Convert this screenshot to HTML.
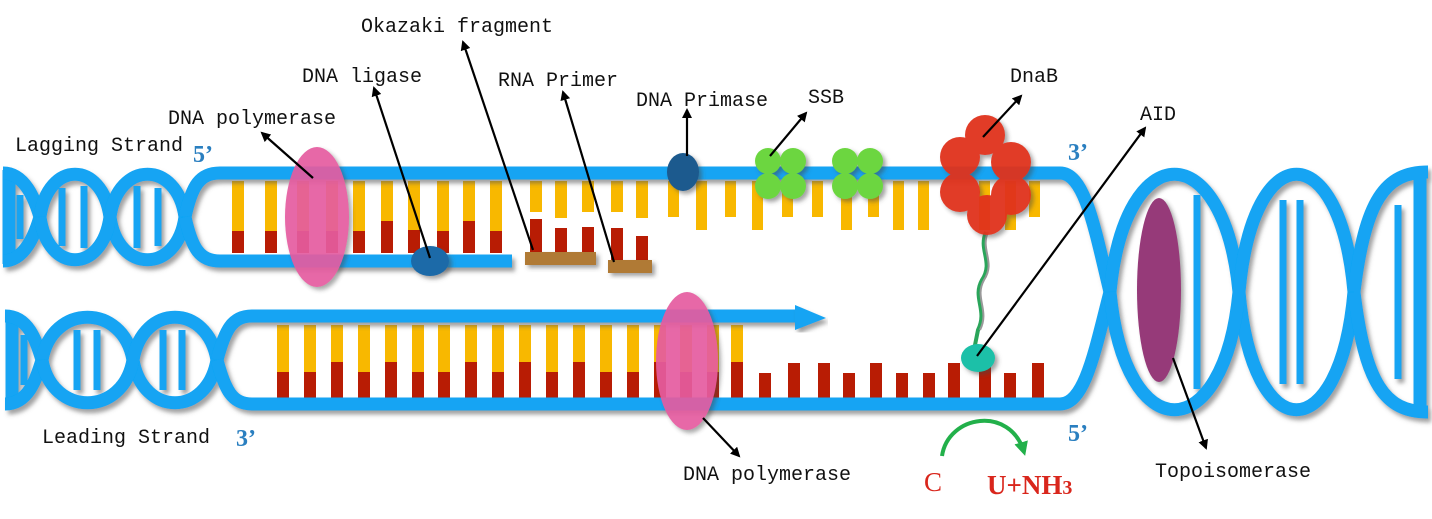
<!DOCTYPE html>
<html><head><meta charset="utf-8"><style>
html,body{margin:0;padding:0;background:#fff;}
svg{display:block;}
.lb{font-family:"Liberation Mono","DejaVu Sans Mono",monospace;font-size:20px;fill:#111;}
.pr{font-family:"Liberation Serif",serif;font-size:24px;fill:#2a7fc0;font-weight:bold;}
</style></head><body>
<svg width="1432" height="519" viewBox="0 0 1432 519" xmlns="http://www.w3.org/2000/svg">
<defs>
<filter id="sh" x="-5%" y="-5%" width="110%" height="115%"><feDropShadow dx="3" dy="4" stdDeviation="2" flood-color="#555" flood-opacity="0.55"/></filter>
<filter id="sh2" x="-20%" y="-20%" width="150%" height="150%"><feDropShadow dx="3" dy="3" stdDeviation="2" flood-color="#444" flood-opacity="0.5"/></filter>
<marker id="ah" markerWidth="10" markerHeight="10" refX="8" refY="5" orient="auto" markerUnits="userSpaceOnUse"><path d="M0,0 L10,5 L0,10 Z" fill="#000"/></marker>
<marker id="gh" markerWidth="14" markerHeight="14" refX="10" refY="7" orient="auto" markerUnits="userSpaceOnUse"><path d="M0,0 L14,7 L0,14 Z" fill="#22b04a"/></marker>
</defs>

<g>
<g fill="#f8b800">
<rect x="232" y="181" width="12" height="50"/><rect x="265" y="181" width="12" height="50"/><rect x="297" y="181" width="12" height="50"/><rect x="326" y="181" width="12" height="50"/><rect x="353" y="181" width="12" height="50"/><rect x="381" y="181" width="12" height="40"/><rect x="408" y="181" width="12" height="50"/><rect x="437" y="181" width="12" height="50"/><rect x="463" y="181" width="12" height="40"/><rect x="490" y="181" width="12" height="50"/>
<rect x="530" y="181" width="12" height="31"/><rect x="555" y="181" width="12" height="37"/><rect x="582" y="181" width="12" height="31"/><rect x="611" y="181" width="12" height="31"/><rect x="636" y="181" width="12" height="37"/>
<rect x="668" y="181" width="11" height="36"/><rect x="696" y="181" width="11" height="49"/><rect x="725" y="181" width="11" height="36"/><rect x="752" y="181" width="11" height="49"/><rect x="782" y="181" width="11" height="36"/><rect x="812" y="181" width="11" height="36"/><rect x="841" y="181" width="11" height="49"/><rect x="868" y="181" width="11" height="36"/><rect x="893" y="181" width="11" height="49"/><rect x="918" y="181" width="11" height="49"/><rect x="979" y="181" width="11" height="49"/><rect x="1005" y="181" width="11" height="49"/><rect x="1029" y="181" width="11" height="36"/>
</g>
<g fill="#b81c04">
<rect x="232" y="231" width="12" height="22"/><rect x="265" y="231" width="12" height="22"/><rect x="297" y="231" width="12" height="22"/><rect x="326" y="231" width="12" height="22"/><rect x="353" y="231" width="12" height="22"/><rect x="381" y="221" width="12" height="32"/><rect x="408" y="230" width="12" height="23"/><rect x="437" y="231" width="12" height="22"/><rect x="463" y="221" width="12" height="32"/><rect x="490" y="231" width="12" height="22"/>
<rect x="530" y="219" width="12" height="34"/><rect x="555" y="228" width="12" height="25"/><rect x="582" y="227" width="12" height="26"/><rect x="611" y="228" width="12" height="32"/><rect x="636" y="236" width="12" height="24"/>
</g>
<g filter="url(#sh2)" fill="#b07a35">
<rect x="525" y="252" width="71" height="13"/><rect x="608" y="260" width="44" height="13"/>
</g>
</g>

<g fill="#f8b800">
<rect x="277" y="325" width="12" height="47"/><rect x="304" y="325" width="12" height="47"/><rect x="331" y="325" width="12" height="37"/><rect x="358" y="325" width="12" height="47"/><rect x="385" y="325" width="12" height="37"/><rect x="412" y="325" width="12" height="47"/><rect x="438" y="325" width="12" height="47"/><rect x="465" y="325" width="12" height="37"/><rect x="492" y="325" width="12" height="47"/><rect x="519" y="325" width="12" height="37"/><rect x="546" y="325" width="12" height="47"/><rect x="573" y="325" width="12" height="37"/><rect x="600" y="325" width="12" height="47"/><rect x="627" y="325" width="12" height="47"/><rect x="654" y="325" width="12" height="37"/><rect x="680" y="325" width="12" height="47"/><rect x="707" y="325" width="12" height="47"/><rect x="731" y="325" width="12" height="37"/>
</g>
<g fill="#b81c04">
<rect x="277" y="372" width="12" height="26"/><rect x="304" y="372" width="12" height="26"/><rect x="331" y="362" width="12" height="36"/><rect x="358" y="372" width="12" height="26"/><rect x="385" y="362" width="12" height="36"/><rect x="412" y="372" width="12" height="26"/><rect x="438" y="372" width="12" height="26"/><rect x="465" y="362" width="12" height="36"/><rect x="492" y="372" width="12" height="26"/><rect x="519" y="362" width="12" height="36"/><rect x="546" y="372" width="12" height="26"/><rect x="573" y="362" width="12" height="36"/><rect x="600" y="372" width="12" height="26"/><rect x="627" y="372" width="12" height="26"/><rect x="654" y="362" width="12" height="36"/><rect x="680" y="372" width="12" height="26"/><rect x="707" y="372" width="12" height="26"/><rect x="731" y="362" width="12" height="36"/>
<rect x="759" y="373" width="12" height="25"/><rect x="788" y="363" width="12" height="35"/><rect x="818" y="363" width="12" height="35"/><rect x="843" y="373" width="12" height="25"/><rect x="870" y="363" width="12" height="35"/><rect x="896" y="373" width="12" height="25"/><rect x="923" y="373" width="12" height="25"/><rect x="948" y="363" width="12" height="35"/><rect x="979" y="363" width="12" height="35"/><rect x="1004" y="373" width="12" height="25"/><rect x="1032" y="363" width="12" height="35"/>
</g>

<g filter="url(#sh)" stroke="#12a4f3" stroke-width="13" fill="none" stroke-linecap="butt">
<g stroke-width="7">
<line x1="62" y1="188" x2="62" y2="246"/><line x1="84" y1="186" x2="84" y2="248"/>
<line x1="137" y1="186" x2="137" y2="248"/><line x1="158" y1="188" x2="158" y2="246"/>
<line x1="20" y1="195" x2="20" y2="239"/>
<line x1="77" y1="330" x2="77" y2="390"/><line x1="97" y1="330" x2="97" y2="390"/>
<line x1="163" y1="330" x2="163" y2="390"/><line x1="182" y1="330" x2="182" y2="390"/>
<line x1="24" y1="335" x2="24" y2="385"/>
<line x1="1197" y1="195" x2="1197" y2="389"/><line x1="1283" y1="200" x2="1283" y2="384"/><line x1="1300" y1="200" x2="1300" y2="384"/><line x1="1398" y1="205" x2="1398" y2="379"/>
</g>
<path d="M9,170 L9,264"/>
<path d="M3,173 C25,173 35,200 40,217 M3,261 C25,261 35,234 40,217"/>
<path d="M40,217 C48,160 102,160 110,217 C118,274 177,274 185,217"/>
<path d="M40,217 C48,274 102,274 110,217 C118,160 177,160 185,217"/>
<path d="M185,217 C192,185 200,173 220,173 L1060,173 C1085,173 1095,230 1110,292"/>
<path d="M185,217 C192,249 200,261 220,261 L512,261"/>
<path d="M12,313 L12,407"/>
<path d="M5,316 C28,316 36,340 42,360 M5,404 C28,404 36,380 42,360"/>
<path d="M42,360 C52,303 123,303 133,360 C143,417 207,417 217,360"/>
<path d="M42,360 C52,417 123,417 133,360 C143,303 207,303 217,360"/>
<path d="M217,360 C225,330 232,316 252,316 L800,316"/>
<path d="M217,360 C225,390 232,404 252,404 L1060,404 C1085,404 1095,350 1110,292"/>
<path d="M1110,292 C1125,135 1224,135 1239,292 C1253,449 1340,449 1354,292"/>
<path d="M1110,292 C1125,449 1224,449 1239,292 C1253,135 1340,135 1354,292"/>
<path d="M1354,292 C1365,200 1385,172 1428,172 M1354,292 C1365,384 1385,412 1428,412"/>
<path d="M1420,170 L1420,414"/>
</g>
<path d="M795,305 L826,318 L795,330 Z" fill="#12a4f3" filter="url(#sh)"/>

<ellipse cx="317" cy="217" rx="32" ry="70" fill="#e55ca0" opacity="0.92" filter="url(#sh2)"/>
<ellipse cx="430" cy="261" rx="19" ry="15" fill="#1b6aa8" filter="url(#sh2)"/>
<ellipse cx="687" cy="361" rx="31" ry="69" fill="#e55ca0" opacity="0.92" filter="url(#sh2)"/>
<ellipse cx="683" cy="172" rx="16" ry="19" fill="#1a5a8e" filter="url(#sh2)"/>
<g fill="#6cd640" filter="url(#sh2)">
<circle cx="768" cy="161" r="13"/><circle cx="793" cy="161" r="13"/><circle cx="768" cy="186" r="13"/><circle cx="793" cy="186" r="13"/>
<circle cx="845" cy="161" r="13"/><circle cx="870" cy="161" r="13"/><circle cx="845" cy="186" r="13"/><circle cx="870" cy="186" r="13"/>
</g>
<path d="M986,232 C978,250 994,262 982,280 C972,298 988,310 978,330 L974,350" stroke="#2aa55a" stroke-width="4" fill="none"/>
<path d="M988,232 C980,250 996,262 984,280 C974,298 990,310 980,330" stroke="#999" stroke-width="2" fill="none"/>
<g fill="#e0321e" opacity="0.95" filter="url(#sh2)">
<circle cx="1011" cy="162" r="20"/><circle cx="1011" cy="195" r="20"/>
<circle cx="985" cy="135" r="20"/><circle cx="960" cy="157" r="20"/><circle cx="960" cy="192" r="20"/><circle cx="987" cy="215" r="20"/>
</g>
<ellipse cx="978" cy="358" rx="17" ry="14" fill="#1ec0a8" filter="url(#sh2)"/>
<ellipse cx="1159" cy="290" rx="22" ry="92" fill="#8e2a6e" opacity="0.92" filter="url(#sh2)"/>

<g stroke="#000" stroke-width="2.2" fill="none" marker-end="url(#ah)">
<line x1="313" y1="178" x2="262" y2="133"/>
<line x1="430" y1="258" x2="374" y2="88"/>
<line x1="533" y1="250" x2="463" y2="42"/>
<line x1="614" y1="262" x2="563" y2="92"/>
<line x1="687" y1="156" x2="687" y2="110"/>
<line x1="770" y1="156" x2="806" y2="113"/>
<line x1="983" y1="137" x2="1021" y2="96"/>
<line x1="977" y1="356" x2="1145" y2="128"/>
<line x1="703" y1="418" x2="739" y2="456"/>
<line x1="1173" y1="358" x2="1206" y2="448"/>
</g>
<path d="M942,456 C948,415 1010,405 1024,452" stroke="#22b04a" stroke-width="4" fill="none" marker-end="url(#gh)"/>

<text class="lb" x="361" y="32">Okazaki fragment</text>
<text class="lb" x="302" y="82">DNA ligase</text>
<text class="lb" x="498" y="86">RNA Primer</text>
<text class="lb" x="636" y="106">DNA Primase</text>
<text class="lb" x="808" y="103">SSB</text>
<text class="lb" x="1010" y="82">DnaB</text>
<text class="lb" x="1140" y="120">AID</text>
<text class="lb" x="168" y="124">DNA polymerase</text>
<text class="lb" x="15" y="151">Lagging Strand</text>
<text class="lb" x="42" y="443">Leading Strand</text>
<text class="lb" x="683" y="480">DNA polymerase</text>
<text class="lb" x="1155" y="477">Topoisomerase</text>
<text class="pr" x="193" y="162">5’</text>
<text class="pr" x="1068" y="160">3’</text>
<text class="pr" x="1068" y="441">5’</text>
<text class="pr" x="236" y="446">3’</text>
<text x="924" y="491" font-family="Liberation Serif,serif" font-size="27" fill="#d9261c">C</text>
<text x="987" y="494" font-family="Liberation Serif,serif" font-size="27" font-weight="bold" fill="#d9261c">U+NH<tspan font-size="20">3</tspan></text>
</svg>
</body></html>
